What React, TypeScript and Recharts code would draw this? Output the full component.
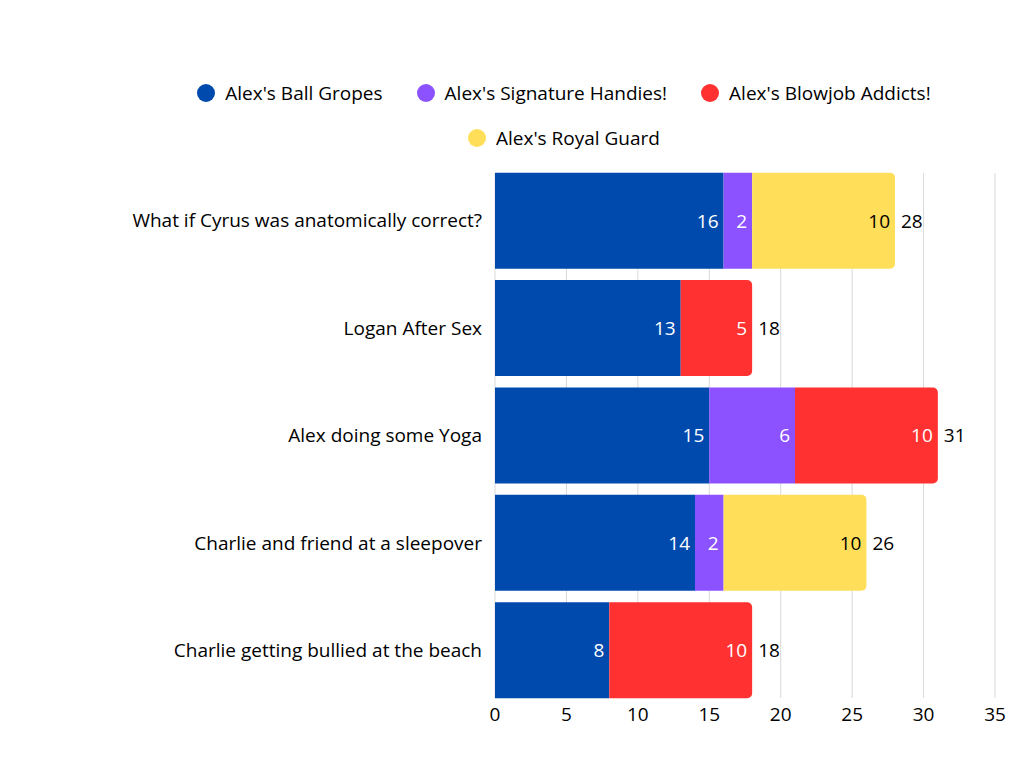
import React from "react";
import {
  BarChart,
  Bar,
  XAxis,
  YAxis,
  CartesianGrid,
  LabelList,
  Rectangle,
} from "recharts";

const categories = [
  "What if Cyrus was anatomically correct?",
  "Logan After Sex",
  "Alex doing some Yoga",
  "Charlie and friend at a sleepover",
  "Charlie getting bullied at the beach",
];

const seriesNames = [
  "Alex's Ball Gropes",
  "Alex's Signature Handies!",
  "Alex's Blowjob Addicts!",
  "Alex's Royal Guard",
];

const ballGropes = [16, 13, 15, 14, 8];
const signatureHandies = [2, 0, 6, 2, 0];
const blowjobAddicts = [0, 5, 10, 0, 10];
const royalGuard = [10, 0, 0, 10, 0];

const xTicks = [0, 5, 10, 15, 20, 25, 30, 35];

const colors = ["#004AAD", "#8C52FF", "#FF3131", "#FFDE59"];
const labelColors = ["#ffffff", "#ffffff", "#ffffff", "#000000"];
const keys = ["s0", "s1", "s2", "s3"];
const FONT = "'Open Sans', sans-serif";
const FS = 19;

const seriesValues = [ballGropes, signatureHandies, blowjobAddicts, royalGuard];

const data = categories.map((name, i) => {
  const row: any = { name, total: 0, last: -1 };
  seriesValues.forEach((vals, s) => {
    row[keys[s]] = vals[i];
    row.total += vals[i];
    if (vals[i] > 0) row.last = s;
  });
  return row;
});

function makeLabel(s: number) {
  return (props: any) => {
    const { x, y, width, height, value, index } = props;
    if (!value) return null;
    const row = data[index];
    const cy = Number(y) + Number(height) / 2;
    const right = Number(x) + Number(width);
    return (
      <g>
        <text
          x={right - 5}
          y={cy}
          textAnchor="end"
          dominantBaseline="central"
          fill={labelColors[s]}
          fontSize={FS}
          fontFamily={FONT}
        >
          {value}
        </text>
        {row.last === s && (
          <text
            x={right + 6}
            y={cy}
            textAnchor="start"
            dominantBaseline="central"
            fill="#000000"
            fontSize={FS}
            fontFamily={FONT}
          >
            {row.total}
          </text>
        )}
      </g>
    );
  };
}

function makeShape(s: number) {
  return (props: any) => {
    const row = props.payload;
    const isLast = row && row.last === s;
    if (!props.width) return null;
    return (
      <Rectangle
        x={props.x}
        y={props.y}
        width={props.width}
        height={props.height}
        fill={colors[s]}
        radius={isLast ? [0, 5, 5, 0] : 0}
      />
    );
  };
}

function ChartLegend() {
  return (
    <div
      style={{
        position: "absolute",
        top: 79,
        left: 184,
        width: 760,
        display: "flex",
        flexWrap: "wrap",
        justifyContent: "center",
        columnGap: 34,
        rowGap: 18,
        fontFamily: FONT,
        fontSize: FS,
        color: "#000",
      }}
    >
      {seriesNames.map((n, i) => (
        <div key={n} style={{ display: "flex", alignItems: "center", height: 27 }}>
          <span
            style={{
              width: 18,
              height: 18,
              borderRadius: 9,
              background: colors[i],
              display: "inline-block",
              marginRight: 10,
            }}
          />
          <span>{n}</span>
        </div>
      ))}
    </div>
  );
}

export default function App() {
  return (
    <div style={{ position: "absolute", left: 0, top: 0, width: 1024, height: 768, background: "#fff" }}>
      <BarChart
        width={1024}
        height={768}
        data={data}
        layout="vertical"
        margin={{ top: 167, right: 29, bottom: 34, left: 0 }}
        barCategoryGap="5.25%"
      >
        <CartesianGrid horizontal={false} stroke="#d9d9d9" y={173} height={525} />
        <XAxis
          type="number"
          domain={[0, 35]}
          ticks={xTicks}
          height={30}
          axisLine={false}
          tickLine={false}
          tickSize={0}
          tickMargin={4}
          tick={{ fontSize: FS, fill: "#000", fontFamily: FONT }}
        />
        <YAxis
          type="category"
          dataKey="name"
          width={495}
          axisLine={false}
          tickLine={false}
          tickSize={0}
          tickMargin={13}
          tick={{ fontSize: FS, fill: "#000", fontFamily: FONT }}
        />
        {keys.map((k, s) => (
          <Bar
            key={k}
            dataKey={k}
            stackId="a"
            fill={colors[s]}
            isAnimationActive={false}
            shape={makeShape(s)}
          >
            <LabelList dataKey={k} content={makeLabel(s)} />
          </Bar>
        ))}
      </BarChart>
      <ChartLegend />
    </div>
  );
}
